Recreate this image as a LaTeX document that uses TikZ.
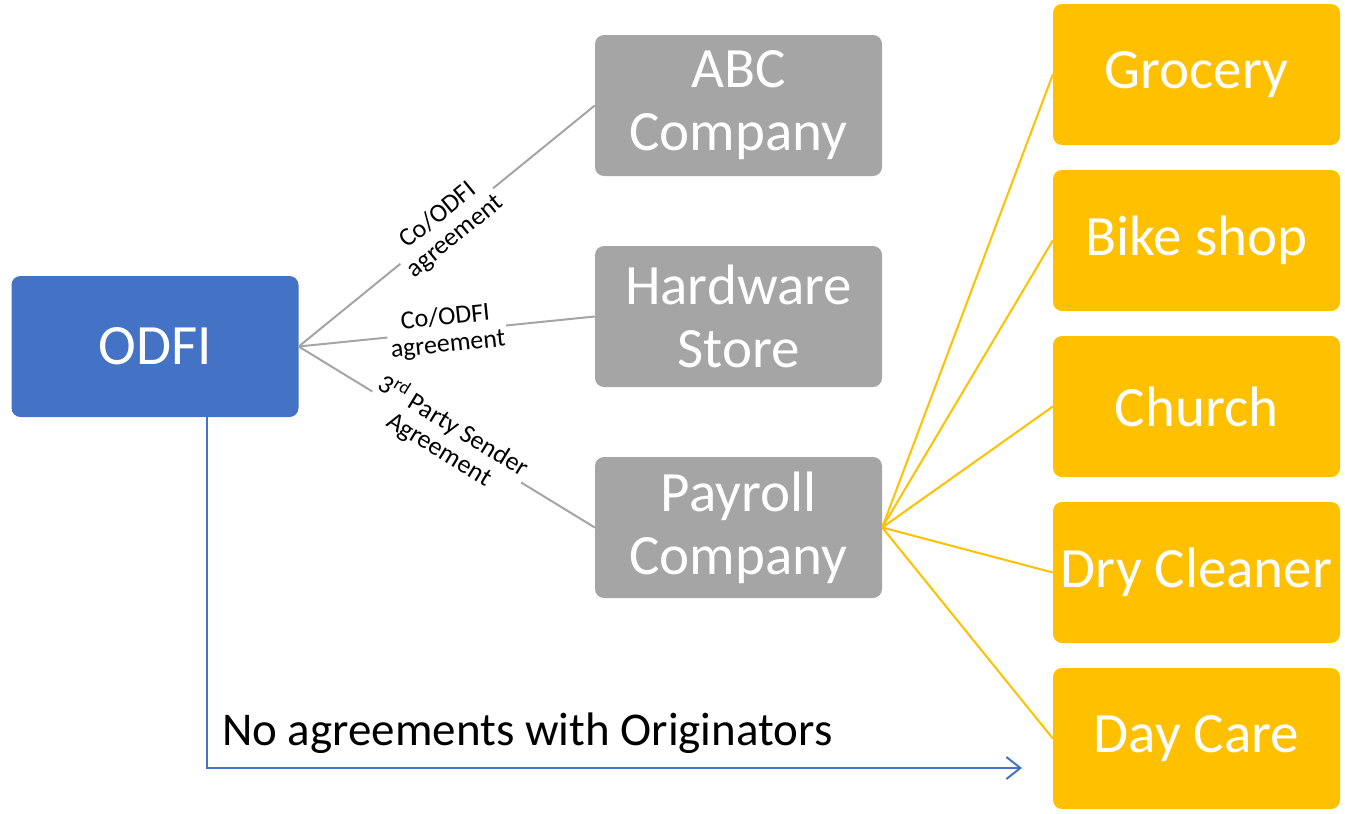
\documentclass[tikz,border=0pt]{standalone}
\usepackage{fontspec}
\setmainfont{Carlito}
\usetikzlibrary{arrows.meta}
\definecolor{odfiblue}{HTML}{4472C4}
\definecolor{boxgray}{HTML}{A5A5A5}
\definecolor{gold}{HTML}{FFC000}
\begin{document}
\begin{tikzpicture}[x=1pt,y=-1pt,
  box/.style={rounded corners=9pt, minimum width=287pt, minimum height=141pt,
    text=white, font=\fontsize{57}{63}\selectfont, align=center, inner sep=0pt},
  bluebox/.style={box, fill=odfiblue},
  graybox/.style={box, fill=boxgray},
  goldbox/.style={box, fill=gold},
  grayline/.style={draw=boxgray, line width=2pt},
  goldline/.style={draw=gold, line width=2pt},
  blueline/.style={draw=odfiblue, line width=2pt},
  lbl/.style={midway, sloped, fill=white, inner sep=2pt, align=center,
    font=\fontsize{26}{27}\selectfont, text=black}
]
\useasboundingbox (0,0) rectangle (1345,814);
\node[bluebox] (odfi) at (155,346.5) {ODFI};
\node[graybox] (abc) at (738.5,105.5) {ABC\\Company};
\node[graybox] (hw) at (738.5,316.5) {Hardware\\Store};
\node[graybox] (pay) at (738.5,527.5) {Payroll\\Company};
\node[goldbox] (groc) at (1196.5,74.5) {Grocery};
\node[goldbox] (bike) at (1196.5,240.5) {Bike shop};
\node[goldbox] (church) at (1196.5,406.5) {Church};
\node[goldbox] (dry) at (1196.5,572.5) {Dry Cleaner};
\node[goldbox] (day) at (1196.5,738.5) {Day Care};

\draw[grayline] (odfi.east) -- node[lbl] {Co/ODFI\\agreement} (abc.west);
\draw[grayline] (odfi.east) -- node[lbl] {Co/ODFI\\agreement} (hw.west);
\draw[grayline] (odfi.east) -- node[lbl] {3\textsuperscript{rd} Party Sender\\Agreement} (pay.west);

\foreach \t in {groc,bike,church,dry,day}
  \draw[goldline] (pay.east) -- (\t.west);

\coordinate (arrend) at (1022,768);
\draw[blueline, -{Straight Barb[length=14pt,width=22pt,line width=2pt]}] ([xshift=52pt]odfi.south) |- (arrend);
\node[anchor=base west, font=\fontsize{47}{52}\selectfont, inner sep=0pt] (noagr) at (222,745) {No agreements with Originators};
\end{tikzpicture}
\end{document}
